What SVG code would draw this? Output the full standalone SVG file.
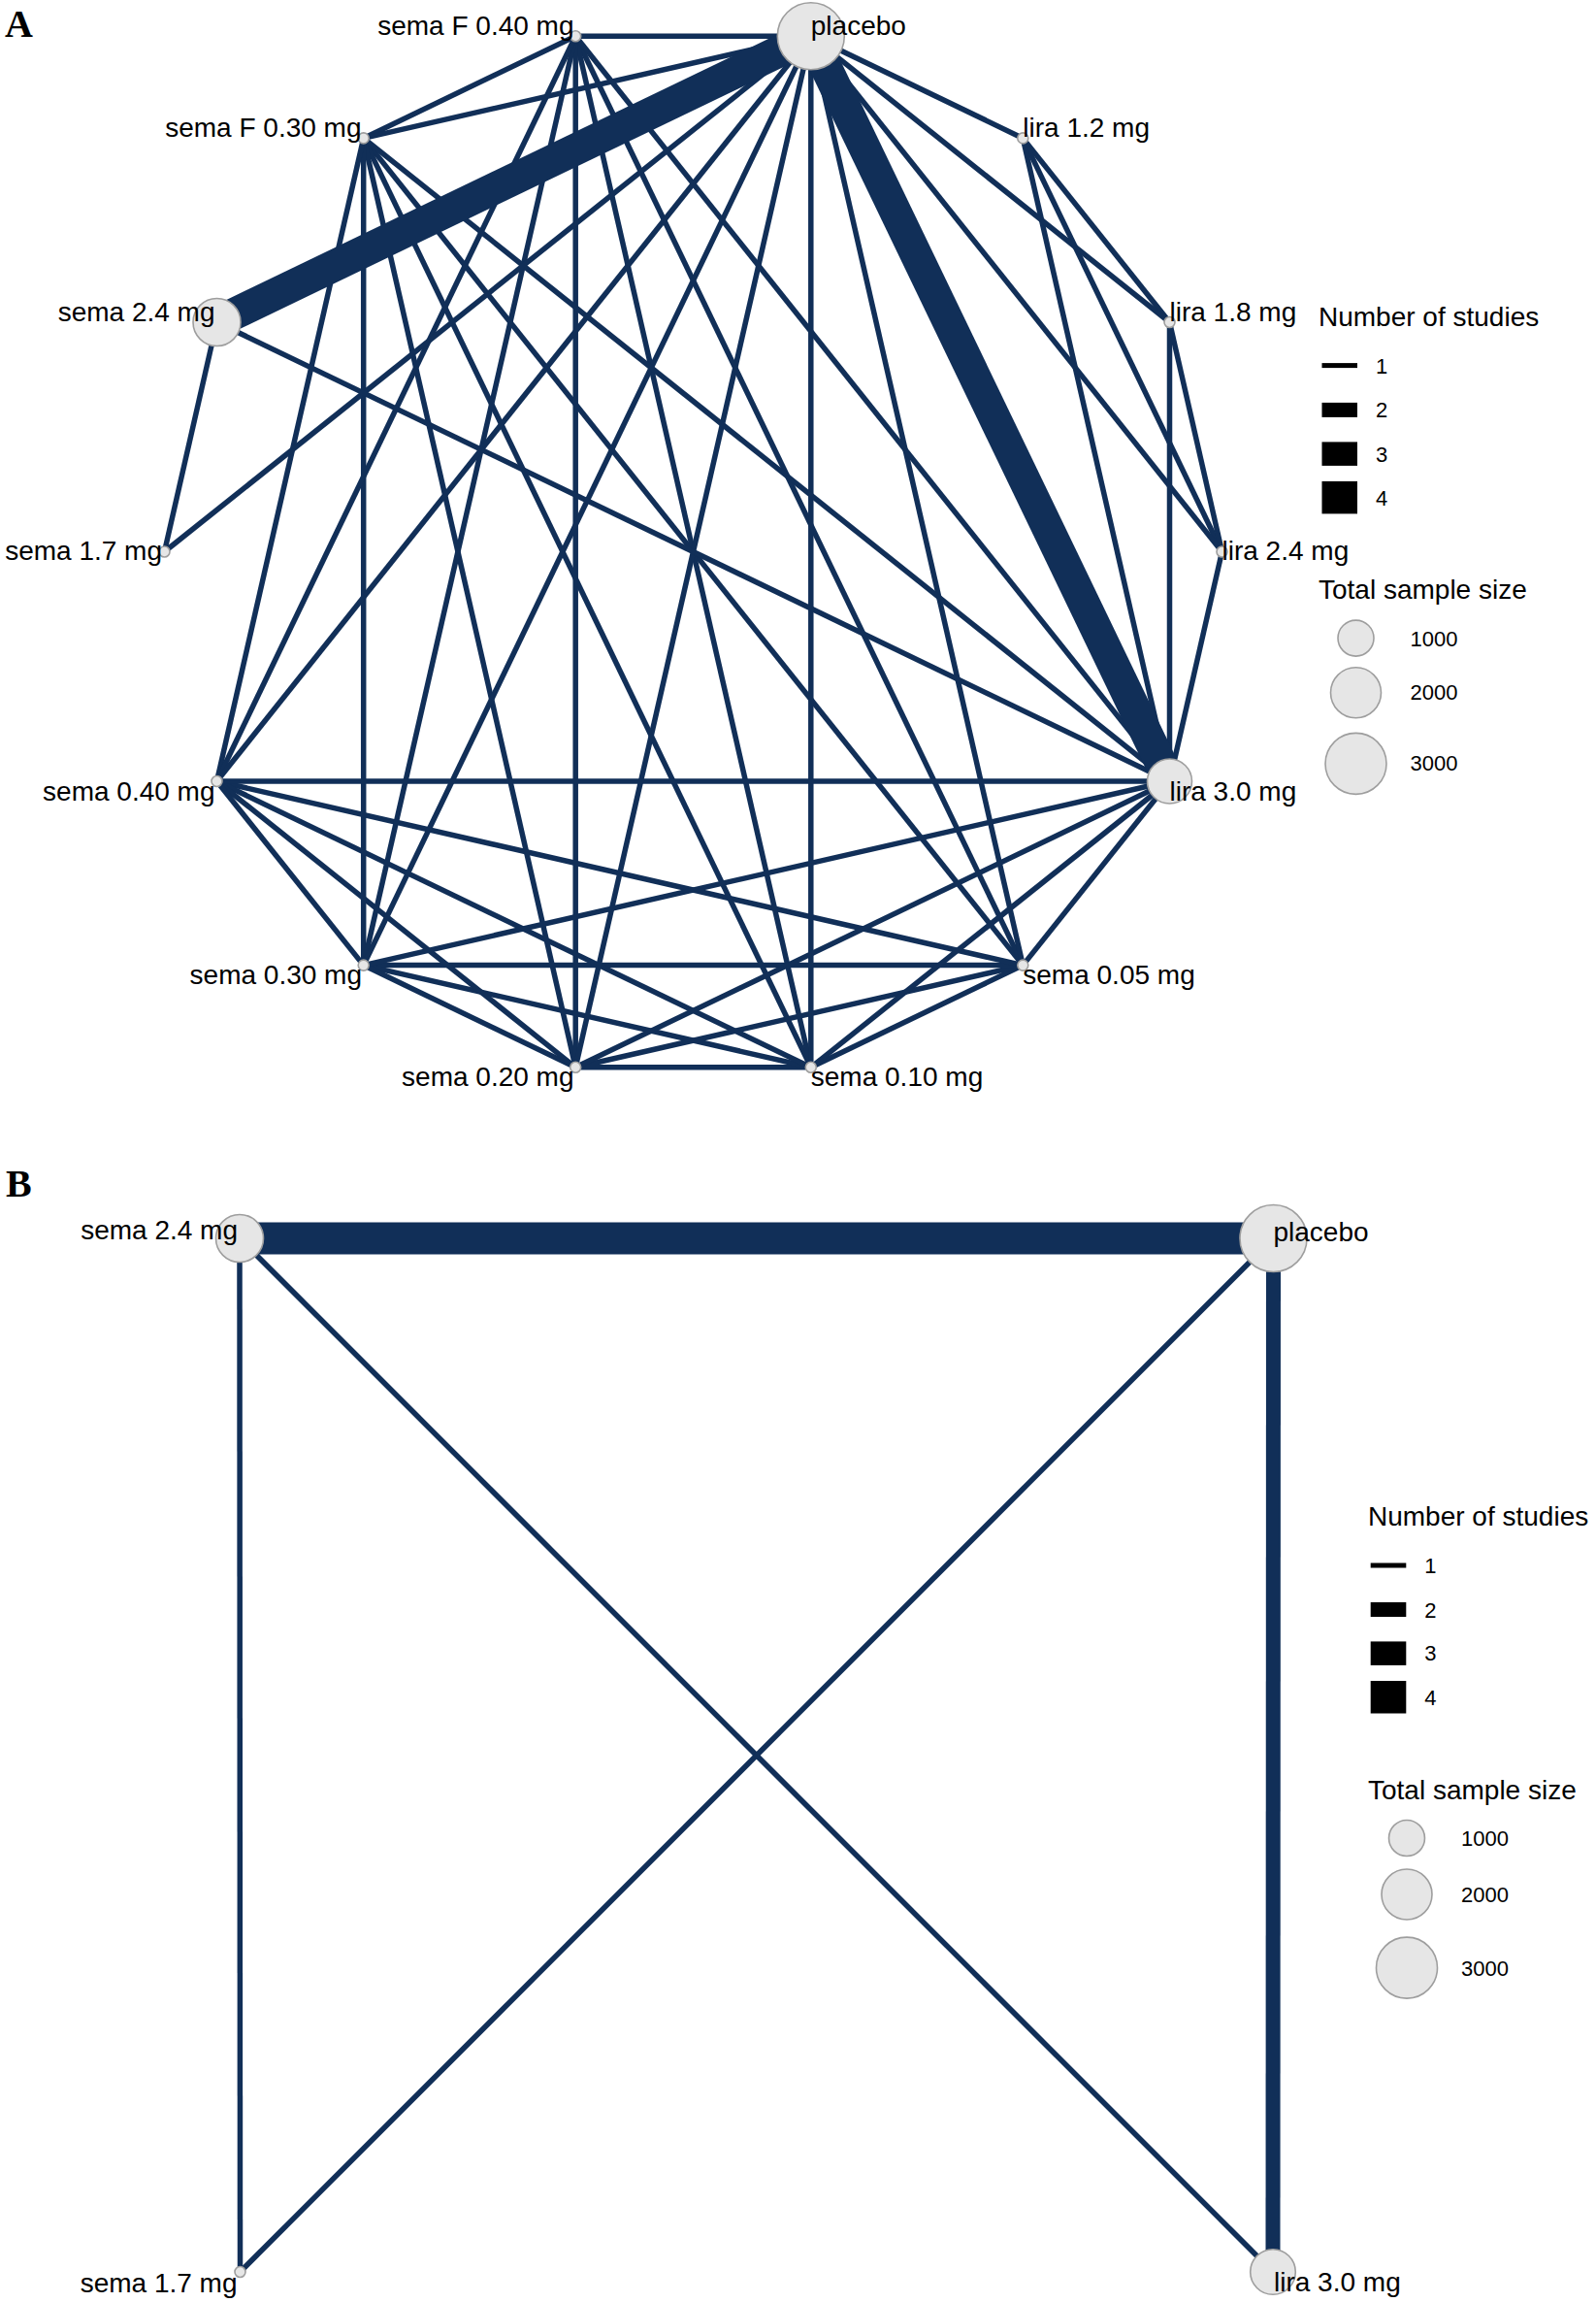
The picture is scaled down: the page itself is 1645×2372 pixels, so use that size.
<svg xmlns="http://www.w3.org/2000/svg" width="1645" height="2372" viewBox="0 0 1645 2372">
<style>
.e{stroke:#112f58;stroke-width:5.5;stroke-linecap:butt}
.e2{stroke:#112f58;stroke-width:15}
.e4{stroke:#112f58;stroke-width:33}
.n{fill:#e6e6e6;stroke:#9e9e9e;stroke-width:1.6}
text{font-family:"Liberation Sans",Arial,Helvetica,sans-serif;fill:#000}
.lb{font-size:28px}
.st{text-anchor:start}
.en{text-anchor:end}
.lt{font-size:28px}
.ll{font-size:22px}
.pl{font-family:"Liberation Serif","Times New Roman",serif;font-weight:bold;font-size:40px}
.k{fill:#000}
</style>
<rect width="1645" height="2372" fill="#fff"/>
<text class="pl" x="5" y="38">A</text>
<text class="pl" x="6" y="1233">B</text>

<g id="connectors-A">
<line class="e" x1="1054.3" y1="994.6" x2="835.8" y2="1099.8"/>
<line class="e" x1="1054.3" y1="994.6" x2="593.2" y2="1099.8"/>
<line class="e" x1="1054.3" y1="994.6" x2="374.7" y2="994.6"/>
<line class="e" x1="1054.3" y1="994.6" x2="223.5" y2="805"/>
<line class="e" x1="1054.3" y1="994.6" x2="374.7" y2="142.4"/>
<line class="e" x1="1054.3" y1="994.6" x2="593.2" y2="37.2"/>
<line class="e" x1="1054.3" y1="994.6" x2="1205.5" y2="805"/>
<line class="e" x1="1054.3" y1="994.6" x2="835.8" y2="37.2"/>
<line class="e" x1="835.8" y1="1099.8" x2="593.2" y2="1099.8"/>
<line class="e" x1="835.8" y1="1099.8" x2="374.7" y2="994.6"/>
<line class="e" x1="835.8" y1="1099.8" x2="223.5" y2="805"/>
<line class="e" x1="835.8" y1="1099.8" x2="374.7" y2="142.4"/>
<line class="e" x1="835.8" y1="1099.8" x2="593.2" y2="37.2"/>
<line class="e" x1="835.8" y1="1099.8" x2="1205.5" y2="805"/>
<line class="e" x1="835.8" y1="1099.8" x2="835.8" y2="37.2"/>
<line class="e" x1="593.2" y1="1099.8" x2="374.7" y2="994.6"/>
<line class="e" x1="593.2" y1="1099.8" x2="223.5" y2="805"/>
<line class="e" x1="593.2" y1="1099.8" x2="374.7" y2="142.4"/>
<line class="e" x1="593.2" y1="1099.8" x2="593.2" y2="37.2"/>
<line class="e" x1="593.2" y1="1099.8" x2="1205.5" y2="805"/>
<line class="e" x1="593.2" y1="1099.8" x2="835.8" y2="37.2"/>
<line class="e" x1="374.7" y1="994.6" x2="223.5" y2="805"/>
<line class="e" x1="374.7" y1="994.6" x2="374.7" y2="142.4"/>
<line class="e" x1="374.7" y1="994.6" x2="593.2" y2="37.2"/>
<line class="e" x1="374.7" y1="994.6" x2="1205.5" y2="805"/>
<line class="e" x1="374.7" y1="994.6" x2="835.8" y2="37.2"/>
<line class="e" x1="223.5" y1="805" x2="374.7" y2="142.4"/>
<line class="e" x1="223.5" y1="805" x2="593.2" y2="37.2"/>
<line class="e" x1="223.5" y1="805" x2="1205.5" y2="805"/>
<line class="e" x1="223.5" y1="805" x2="835.8" y2="37.2"/>
<line class="e" x1="374.7" y1="142.4" x2="593.2" y2="37.2"/>
<line class="e" x1="374.7" y1="142.4" x2="1205.5" y2="805"/>
<line class="e" x1="374.7" y1="142.4" x2="835.8" y2="37.2"/>
<line class="e" x1="593.2" y1="37.2" x2="1205.5" y2="805"/>
<line class="e" x1="593.2" y1="37.2" x2="835.8" y2="37.2"/>
<line class="e" x1="1054.3" y1="142.4" x2="1205.5" y2="332"/>
<line class="e" x1="1054.3" y1="142.4" x2="1259.5" y2="568.5"/>
<line class="e" x1="1054.3" y1="142.4" x2="1205.5" y2="805"/>
<line class="e" x1="1054.3" y1="142.4" x2="835.8" y2="37.2"/>
<line class="e" x1="1205.5" y1="332" x2="1259.5" y2="568.5"/>
<line class="e" x1="1205.5" y1="332" x2="1205.5" y2="805"/>
<line class="e" x1="1205.5" y1="332" x2="835.8" y2="37.2"/>
<line class="e" x1="1259.5" y1="568.5" x2="1205.5" y2="805"/>
<line class="e" x1="1259.5" y1="568.5" x2="835.8" y2="37.2"/>
<line class="e" x1="223.5" y1="332" x2="169.5" y2="568.5"/>
<line class="e" x1="169.5" y1="568.5" x2="835.8" y2="37.2"/>
<line class="e" x1="223.5" y1="332" x2="1205.5" y2="805"/>
<line class="e4" x1="223.5" y1="332" x2="835.8" y2="37.2"/>
<line class="e4" x1="1205.5" y1="805" x2="835.8" y2="37.2"/>
</g>

<g id="node-placebo-A"><circle class="n" cx="835.8" cy="37.2" r="34.5"/><text class="lb st" x="835.8" y="35.5">placebo</text></g>
<g id="node-lira12-A"><circle class="n" cx="1054.3" cy="142.4" r="5.5"/><text class="lb st" x="1054.3" y="141">lira 1.2 mg</text></g>
<g id="node-lira18-A"><circle class="n" cx="1205.5" cy="332" r="5.5"/><text class="lb st" x="1205.5" y="331">lira 1.8 mg</text></g>
<g id="node-lira24-A"><circle class="n" cx="1259.5" cy="568.5" r="5.5"/><text class="lb st" x="1259.5" y="577">lira 2.4 mg</text></g>
<g id="node-lira30-A"><circle class="n" cx="1205.5" cy="805" r="23"/><text class="lb st" x="1205.5" y="824.5">lira 3.0 mg</text></g>
<g id="node-sema005-A"><circle class="n" cx="1054.3" cy="994.6" r="5.5"/><text class="lb st" x="1054.3" y="1014">sema 0.05 mg</text></g>
<g id="node-sema010-A"><circle class="n" cx="835.8" cy="1099.8" r="5.5"/><text class="lb st" x="835.8" y="1119.3">sema 0.10 mg</text></g>
<g id="node-sema020-A"><circle class="n" cx="593.2" cy="1099.8" r="5.5"/><text class="lb en" x="591.5" y="1119.3">sema 0.20 mg</text></g>
<g id="node-sema030-A"><circle class="n" cx="374.7" cy="994.6" r="5.5"/><text class="lb en" x="373" y="1014">sema 0.30 mg</text></g>
<g id="node-sema040-A"><circle class="n" cx="223.5" cy="805" r="5.5"/><text class="lb en" x="221.5" y="824.5">sema 0.40 mg</text></g>
<g id="node-sema17-A"><circle class="n" cx="169.5" cy="568.5" r="5.5"/><text class="lb en" x="167" y="577">sema 1.7 mg</text></g>
<g id="node-sema24-A"><circle class="n" cx="223.5" cy="332" r="24.5"/><text class="lb en" x="221.5" y="331">sema 2.4 mg</text></g>
<g id="node-semaF030-A"><circle class="n" cx="374.7" cy="142.4" r="5.5"/><text class="lb en" x="372.5" y="141">sema F 0.30 mg</text></g>
<g id="node-semaF040-A"><circle class="n" cx="593.2" cy="37.2" r="5.5"/><text class="lb en" x="591.5" y="35.5">sema F 0.40 mg</text></g>

<g id="legend-A">
<text class="lt" x="1359" y="336">Number of studies</text>
<rect class="k" x="1362.5" y="374.1" width="36.5" height="5"/>
<rect class="k" x="1362.5" y="414.9" width="36.5" height="15"/>
<rect class="k" x="1362.5" y="455.4" width="36.5" height="24.5"/>
<rect class="k" x="1362.5" y="495.9" width="36.5" height="33.5"/>
<text class="ll" x="1418" y="384.8">1</text>
<text class="ll" x="1418" y="430">2</text>
<text class="ll" x="1418" y="475.9">3</text>
<text class="ll" x="1418" y="520.7">4</text>
<text class="lt" x="1359" y="616.5">Total sample size</text>
<circle class="n" cx="1397.5" cy="657.6" r="18.5"/>
<circle class="n" cx="1397.5" cy="713.8" r="26"/>
<circle class="n" cx="1397.5" cy="786.9" r="31.5"/>
<text class="ll" x="1453.6" y="665.5">1000</text>
<text class="ll" x="1453.6" y="721.4">2000</text>
<text class="ll" x="1453.6" y="794">3000</text>
</g>

<g id="connectors-B">
<line class="e" x1="247" y1="1276" x2="247.5" y2="2341"/>
<line class="e" x1="247" y1="1276" x2="1312" y2="2341"/>
<line class="e" x1="1312.5" y1="1276" x2="247.5" y2="2341"/>
<line class="e4" x1="247" y1="1276" x2="1312.5" y2="1276"/>
<line class="e2" x1="1312.5" y1="1276" x2="1312" y2="2341"/>
</g>

<g id="node-sema24-B"><circle class="n" cx="247" cy="1276" r="24.5"/><text class="lb en" x="245" y="1277">sema 2.4 mg</text></g>
<g id="node-placebo-B"><circle class="n" cx="1312.5" cy="1276" r="34.5"/><text class="lb st" x="1312.5" y="1279">placebo</text></g>
<g id="node-sema17-B"><circle class="n" cx="247.5" cy="2341" r="5.5"/><text class="lb en" x="244.5" y="2362">sema 1.7 mg</text></g>
<g id="node-lira30-B"><circle class="n" cx="1312" cy="2341" r="23.3"/><text class="lb st" x="1313" y="2361">lira 3.0 mg</text></g>

<g id="legend-B">
<text class="lt" x="1410" y="1572.4">Number of studies</text>
<rect class="k" x="1412.7" y="1610.5" width="36.6" height="5"/>
<rect class="k" x="1412.7" y="1651" width="36.6" height="15"/>
<rect class="k" x="1412.7" y="1691.4" width="36.6" height="24.5"/>
<rect class="k" x="1412.7" y="1732" width="36.6" height="33.5"/>
<text class="ll" x="1468.3" y="1621">1</text>
<text class="ll" x="1468.3" y="1666.6">2</text>
<text class="ll" x="1468.3" y="1711.4">3</text>
<text class="ll" x="1468.3" y="1756.9">4</text>
<text class="lt" x="1410" y="1853.8">Total sample size</text>
<circle class="n" cx="1450" cy="1894" r="18.5"/>
<circle class="n" cx="1450" cy="1952" r="26"/>
<circle class="n" cx="1450" cy="2027.6" r="31.5"/>
<text class="ll" x="1506" y="1902">1000</text>
<text class="ll" x="1506" y="1959.7">2000</text>
<text class="ll" x="1506" y="2035.5">3000</text>
</g>
</svg>
